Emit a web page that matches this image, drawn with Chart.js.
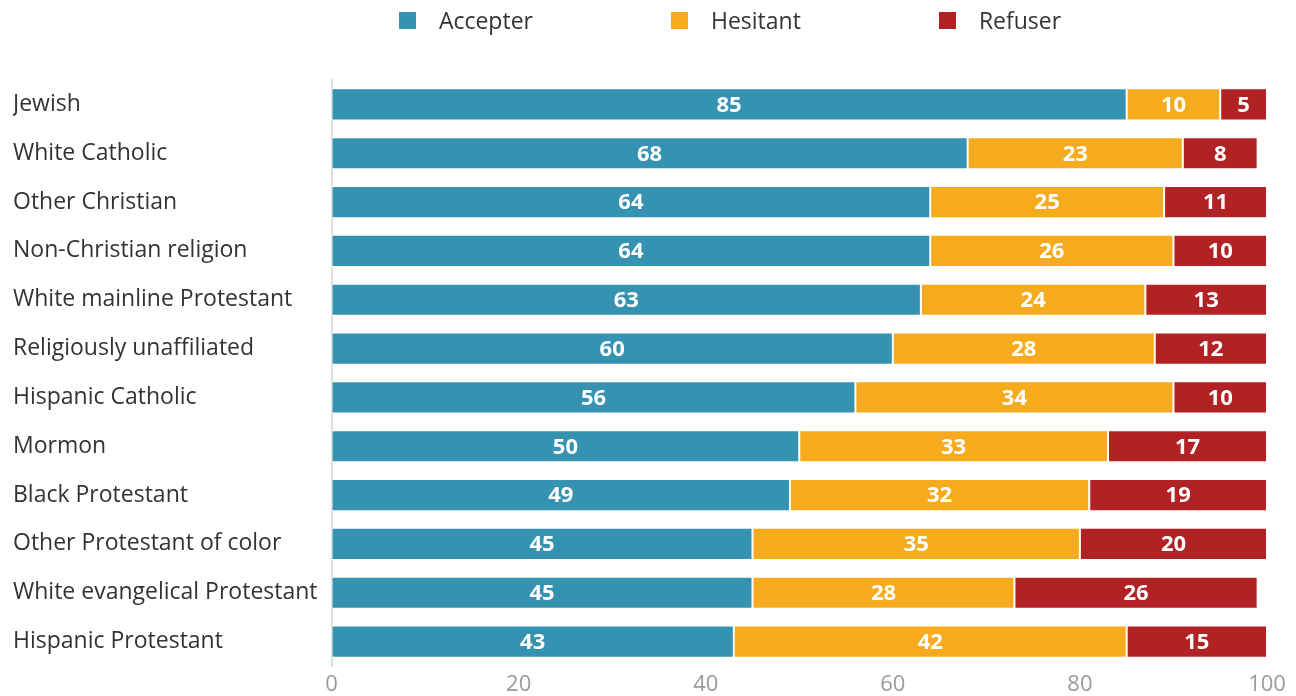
<!DOCTYPE html>
<html>
<head>
<meta charset="utf-8">
<script src="https://cdn.jsdelivr.net/npm/chart.js@4"></script>
<style>
  html, body { margin: 0; padding: 0; background: #fff; overflow: hidden; }
  #legend { position: absolute; left: 0; top: 0; width: 1296px; height: 40px;
            display: flex; justify-content: center; align-items: center;
            font-family: 'Open Sans'; font-size: 23px; color: #333;
            padding-left: 164px; box-sizing: border-box; }
  #legend .item { display: flex; align-items: center; margin: 0 69px; }
  #legend .box { width: 17px; height: 17px; margin-right: 23px; }
  #wrap { width: 1296px; height: 704px; }
</style>
</head>
<body>
<div id="wrap"><canvas id="chart"></canvas></div>
<div id="legend"></div>
<script>
const groups = [
  "Jewish", "White Catholic", "Other Christian", "Non-Christian religion",
  "White mainline Protestant", "Religiously unaffiliated", "Hispanic Catholic",
  "Mormon", "Black Protestant", "Other Protestant of color",
  "White evangelical Protestant", "Hispanic Protestant"
];
const accepter = [85, 68, 64, 64, 63, 60, 56, 50, 49, 45, 45, 43];
const hesitant = [10, 23, 25, 26, 24, 28, 34, 33, 32, 35, 28, 42];
const refuser  = [5, 8, 11, 10, 13, 12, 10, 17, 19, 20, 26, 15];
const xTicks = [0, 20, 40, 60, 80, 100];

document.addEventListener("DOMContentLoaded", () => {
  const ctx = document.getElementById("chart").getContext("2d");

  // white numbers in the middle of each segment
  const valueLabels = {
    id: "valueLabels",
    afterDatasetsDraw(chart) {
      const c = chart.ctx;
      c.save();
      c.fillStyle = "#fff";
      c.font = "bold 22px 'Open Sans'";
      c.textAlign = "center";
      c.textBaseline = "middle";
      chart.data.datasets.forEach((ds, i) => {
        chart.getDatasetMeta(i).data.forEach((bar, j) => {
          const mid = (bar.x + bar.base) / 2;
          c.fillText(ds.data[j], mid, bar.y + 1);
        });
      });
      c.restore();
    }
  };

  const bar = (label, data, color) => ({
    label, data,
    backgroundColor: color,
    borderColor: "#fff",
    borderWidth: 1,
    borderSkipped: false,
    barPercentage: 0.66,
    categoryPercentage: 1
  });

  const chart = new Chart(ctx, {
    type: "bar",
    data: {
      labels: groups,
      datasets: [
        bar("Accepter", accepter, "#3592b0"),
        bar("Hesitant", hesitant, "#f6ab1f"),
        bar("Refuser", refuser, "#b22124")
      ]
    },
    options: {
      indexAxis: "y",
      responsive: true,
      maintainAspectRatio: false,
      animation: false,
      layout: { padding: { left: 13, right: 29, top: 80, bottom: 0 } },
      plugins: {
        legend: { display: false },
        tooltip: { enabled: false }
      },
      scales: {
        x: {
          stacked: true,
          min: 0,
          max: 100,
          afterBuildTicks: (axis) => { axis.ticks = xTicks.map(v => ({ value: v })); },
          grid: { display: false, drawTicks: false },
          border: { display: false },
          ticks: {
            color: "#999",
            padding: 8,
            font: { family: "'Open Sans'", size: 22, lineHeight: 1 }
          }
        },
        y: {
          stacked: true,
          grid: { display: false, drawTicks: false },
          border: { display: true, color: "#ddd", width: 2 },
          ticks: {
            crossAlign: "far",
            color: "#333",
            padding: 7,
            font: { family: "'Open Sans'", size: 23 }
          }
        }
      }
    },
    plugins: [valueLabels]
  });

  // legend built from the datasets
  const legend = document.getElementById("legend");
  chart.data.datasets.forEach(ds => {
    const item = document.createElement("div");
    item.className = "item";
    const box = document.createElement("span");
    box.className = "box";
    box.style.background = ds.backgroundColor;
    item.appendChild(box);
    item.appendChild(document.createTextNode(ds.label));
    legend.appendChild(item);
  });
});
</script>
</body>
</html>
